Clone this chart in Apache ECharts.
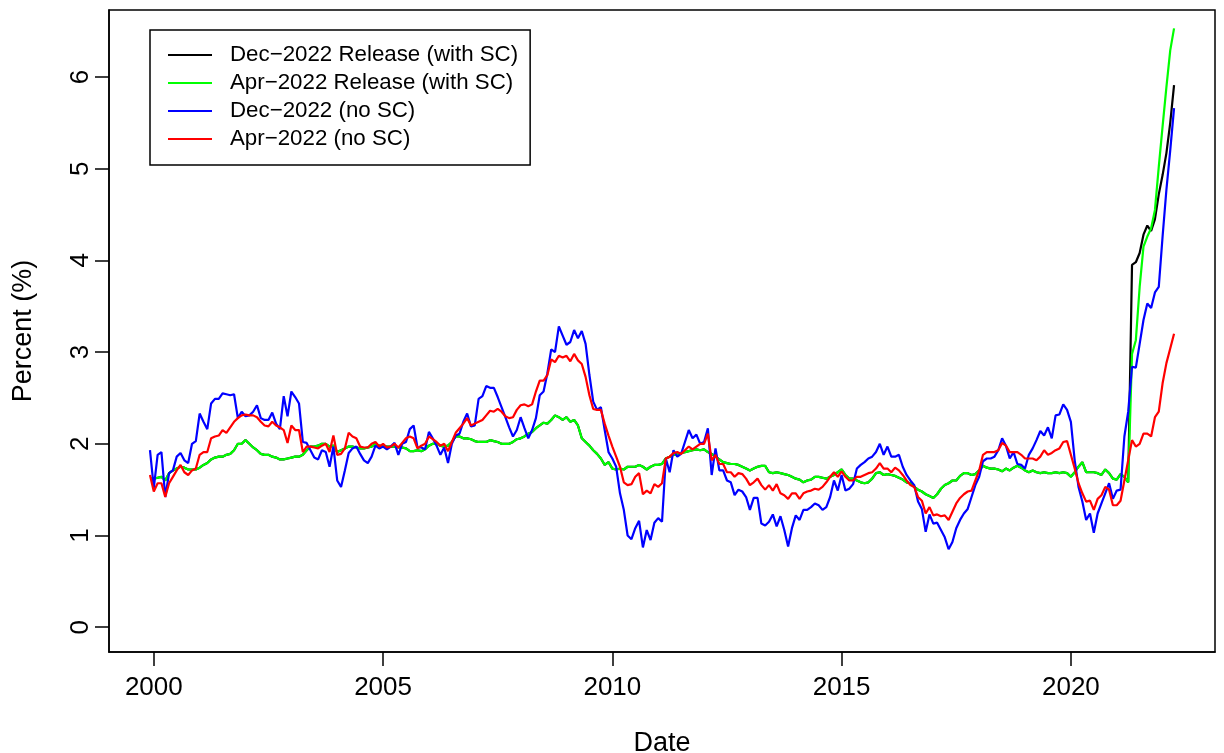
<!DOCTYPE html>
<html>
<head>
<meta charset="utf-8">
<script src="https://cdn.jsdelivr.net/npm/echarts@6/dist/echarts.min.js"></script>
<style>
html,body{margin:0;padding:0;background:#fff;}
#chart{width:1224px;height:753px;}
</style>
</head>
<body>
<div id="chart"></div>
<script>
// Monthly observations, Dec-1999 .. Apr-2022
const startYear = 1999 + 11/12;
const seriesNames = ['Dec\u22122022 Release (with SC)', 'Apr\u22122022 Release (with SC)', 'Dec\u22122022 (no SC)', 'Apr\u22122022 (no SC)'];
const xTicks = [2000, 2005, 2010, 2015, 2020];
const yTicks = [0, 1, 2, 3, 4, 5, 6];

const aprWithSC = [
1.62,1.62,1.63,1.64,1.60,1.68,1.71,1.73,1.75,1.74,1.72,1.72,1.72,1.74,1.77,1.79,1.83,1.85,1.86,1.86,1.88,1.89,1.93,2.00,2.00,2.04,2.00,1.96,1.93,1.89,1.88,1.88,1.86,1.85,1.83,1.83,1.84,1.85,1.86,1.86,1.88,1.93,1.97,1.97,1.98,2.00,2.00,1.97,1.98,
1.91,1.93,1.95,1.97,1.97,1.96,1.95,1.95,1.96,1.97,2.00,1.98,1.97,1.97,1.97,1.97,1.96,1.96,1.95,1.92,1.92,1.93,1.92,1.94,1.98,2.00,2.00,1.98,1.97,1.98,2.02,2.08,2.08,2.06,2.06,2.05,2.03,2.02,2.02,2.02,2.04,2.03,2.02,2.00,2.00,2.00,2.02,2.05,
2.06,2.08,2.11,2.13,2.17,2.20,2.23,2.22,2.26,2.31,2.29,2.26,2.29,2.24,2.26,2.20,2.06,2.02,1.98,1.93,1.89,1.84,1.77,1.80,1.73,1.72,1.73,1.72,1.75,1.75,1.75,1.77,1.75,1.72,1.75,1.77,1.77,1.78,1.84,1.86,1.88,1.89,1.90,1.91,1.92,1.93,1.94,1.93,
1.94,1.91,1.89,1.86,1.83,1.80,1.79,1.78,1.78,1.77,1.75,1.73,1.71,1.73,1.75,1.76,1.76,1.69,1.68,1.69,1.68,1.67,1.66,1.64,1.62,1.61,1.58,1.60,1.61,1.64,1.64,1.63,1.62,1.64,1.66,1.69,1.72,1.66,1.62,1.62,1.60,1.58,1.57,1.58,1.62,1.68,1.69,1.66,1.67,
1.66,1.65,1.63,1.61,1.58,1.57,1.53,1.50,1.48,1.45,1.43,1.41,1.45,1.51,1.55,1.57,1.60,1.60,1.65,1.68,1.68,1.66,1.67,1.71,1.76,1.74,1.73,1.73,1.72,1.70,1.73,1.71,1.74,1.76,1.74,1.71,1.69,1.71,1.69,1.68,1.69,1.68,1.68,1.69,1.68,1.69,1.68,1.64,
1.69,1.75,1.80,1.69,1.69,1.69,1.68,1.66,1.72,1.68,1.62,1.61,1.67,1.64,1.58,2.98,3.13,3.71,4.15,4.26,4.35,4.55,5.02,5.46,5.89,6.29,6.53
];

// The Dec-2022 release coincides with the Apr-2022 release (drawn over it) until spring 2021
const decWithSCTail = [3.95,3.98,4.08,4.28,4.38,4.32,4.45,4.72,4.93,5.17,5.50,5.91];
const decWithSC = aprWithSC.slice(0, 257).concat(decWithSCTail);

const decNoSC = [
1.93,1.52,1.88,1.91,1.42,1.68,1.71,1.86,1.90,1.82,1.79,2.00,2.03,2.33,2.24,2.16,2.44,2.49,2.49,2.55,2.54,2.53,2.54,2.28,2.35,2.30,2.31,2.35,2.42,2.28,2.26,2.26,2.34,2.22,2.16,2.52,2.30,2.57,2.51,2.44,2.02,2.01,1.93,1.85,1.83,1.93,1.91,1.75,1.97,
1.60,1.53,1.71,1.90,1.95,1.97,1.89,1.82,1.79,1.86,1.98,1.95,1.97,1.94,1.97,2.01,1.88,2.00,2.02,2.16,2.20,1.96,1.96,1.94,2.13,2.06,1.98,1.88,1.96,1.79,2.00,2.09,2.11,2.24,2.33,2.19,2.20,2.49,2.52,2.63,2.61,2.61,2.51,2.40,2.29,2.18,2.08,2.15,
2.29,2.17,2.06,2.15,2.28,2.53,2.57,2.77,3.03,3.00,3.28,3.18,3.08,3.11,3.24,3.15,3.23,3.09,2.75,2.46,2.37,2.40,2.15,1.91,1.84,1.75,1.46,1.28,1.00,0.96,1.08,1.16,0.87,1.06,0.95,1.14,1.19,1.15,1.84,1.69,1.93,1.86,1.89,2.02,2.15,2.06,2.10,2.00,
2.02,2.17,1.66,1.95,1.71,1.71,1.60,1.58,1.44,1.50,1.48,1.42,1.28,1.41,1.41,1.13,1.11,1.15,1.23,1.10,1.21,1.06,0.88,1.08,1.22,1.17,1.28,1.28,1.31,1.35,1.33,1.28,1.31,1.42,1.60,1.49,1.66,1.49,1.51,1.56,1.73,1.77,1.80,1.84,1.86,1.91,2.00,1.88,1.97,
1.86,1.86,1.88,1.75,1.66,1.60,1.55,1.37,1.29,1.04,1.23,1.13,1.14,1.06,0.98,0.85,0.93,1.08,1.17,1.24,1.29,1.42,1.55,1.64,1.81,1.84,1.84,1.86,1.93,2.06,1.98,1.84,1.91,1.78,1.77,1.73,1.88,1.95,2.04,2.14,2.09,2.18,2.06,2.31,2.32,2.43,2.37,2.24,
1.82,1.53,1.37,1.17,1.24,1.03,1.24,1.35,1.46,1.57,1.40,1.49,1.50,2.08,2.35,2.84,2.83,3.09,3.35,3.53,3.48,3.65,3.71,4.26,4.77,5.20,5.66
];

const aprNoSC = [
1.66,1.48,1.57,1.57,1.42,1.57,1.64,1.71,1.77,1.69,1.66,1.71,1.73,1.88,1.91,1.91,2.06,2.08,2.09,2.15,2.12,2.18,2.24,2.28,2.31,2.32,2.31,2.31,2.29,2.24,2.20,2.19,2.24,2.20,2.18,2.15,2.01,2.20,2.15,2.15,1.91,1.97,1.97,1.96,1.95,1.98,2.00,1.91,2.09,
1.88,1.89,1.95,2.12,2.08,2.06,1.97,1.96,1.96,2.00,2.02,1.97,2.00,1.96,1.97,2.00,1.96,2.01,2.06,2.08,2.06,1.95,1.98,2.00,2.08,2.05,2.02,1.98,2.00,1.92,2.02,2.12,2.17,2.22,2.28,2.20,2.22,2.24,2.26,2.31,2.36,2.35,2.38,2.35,2.30,2.28,2.29,2.37,
2.42,2.43,2.41,2.43,2.57,2.69,2.69,2.75,2.92,2.89,2.96,2.94,2.96,2.90,2.98,2.91,2.87,2.73,2.53,2.38,2.37,2.37,2.22,2.09,1.97,1.86,1.75,1.58,1.55,1.56,1.64,1.68,1.45,1.49,1.46,1.56,1.53,1.57,1.84,1.86,1.90,1.91,1.89,1.93,1.97,1.94,1.97,2.00,
2.00,2.11,1.82,1.88,1.78,1.78,1.69,1.69,1.64,1.68,1.67,1.62,1.55,1.58,1.62,1.55,1.50,1.55,1.49,1.56,1.46,1.44,1.40,1.46,1.46,1.40,1.46,1.48,1.49,1.51,1.50,1.53,1.58,1.64,1.69,1.64,1.70,1.64,1.60,1.60,1.64,1.64,1.66,1.68,1.69,1.73,1.79,1.73,1.73,
1.69,1.74,1.71,1.66,1.60,1.55,1.53,1.42,1.38,1.24,1.31,1.22,1.23,1.21,1.22,1.17,1.26,1.35,1.41,1.45,1.48,1.49,1.60,1.71,1.88,1.91,1.91,1.91,1.93,2.01,1.98,1.91,1.91,1.91,1.88,1.84,1.84,1.84,1.82,1.86,1.93,1.88,1.90,1.93,1.95,2.02,2.03,1.88,
1.73,1.57,1.46,1.37,1.38,1.28,1.40,1.44,1.53,1.50,1.33,1.33,1.38,1.60,1.82,2.04,1.97,2.00,2.11,2.11,2.08,2.29,2.35,2.66,2.88,3.04,3.20
];

const colors = ['#000000', '#00ff00', '#0000ff', '#ff0000'];
const seriesValues = [decWithSC, aprWithSC, decNoSC, aprNoSC];

function toPoints(arr) {
  return arr.map((v, i) => [startYear + i / 12, v]);
}

const FONT = 'Liberation Sans';
const chart = echarts.init(document.getElementById('chart'), null, {renderer: 'canvas'});

chart.setOption({
  animation: false,
  backgroundColor: '#ffffff',
  textStyle: {fontFamily: FONT, color: '#000'},
  grid: {
    left: 109, right: 9, top: 10, bottom: 101,
    containLabel: false,
    outerBoundsMode: 'none',
    show: true, borderColor: '#000', borderWidth: 1.5, backgroundColor: 'transparent'
  },
  legend: {
    orient: 'vertical',
    left: 150, top: 30,
    padding: [11, 12, 12, 18],
    itemGap: 0,
    itemWidth: 44, itemHeight: 14,
    borderColor: '#000', borderWidth: 1.5,
    backgroundColor: '#fff',
    textStyle: {fontFamily: FONT, fontSize: 22.3, color: '#000', lineHeight: 28, padding: [0, 0, 0, 13]},
    data: seriesNames.map((n) => ({name: n, icon: 'path://M0,0L100,0L100,5L0,5Z'}))
  },
  xAxis: {
    type: 'value',
    min: 1999.023, max: 2023.143,
    splitLine: {show: false},
    axisLine: {show: true, onZero: false, lineStyle: {color: '#000', width: 1.5}},
    axisTick: {show: true, inside: false, length: 14, lineStyle: {color: '#000', width: 1.5}, customValues: xTicks},
    axisLabel: {show: true, fontFamily: FONT, fontSize: 26, color: '#000', margin: 23, customValues: xTicks,
      formatter: (v) => String(v)},
    name: 'Date', nameLocation: 'middle', nameGap: 78,
    nameTextStyle: {fontFamily: FONT, fontSize: 27, color: '#000'}
  },
  yAxis: {
    type: 'value',
    min: -0.27, max: 6.73,
    splitLine: {show: false},
    axisLine: {show: true, onZero: false, lineStyle: {color: '#000', width: 1.5}},
    axisTick: {show: true, inside: false, length: 14, lineStyle: {color: '#000', width: 1.5}, customValues: yTicks},
    axisLabel: {show: true, fontFamily: FONT, fontSize: 26, color: '#000', margin: 15, rotate: 90, customValues: yTicks,
      formatter: (v) => String(v)},
    name: 'Percent (%)', nameLocation: 'middle', nameGap: 72, nameRotate: 90,
    nameTextStyle: {fontFamily: FONT, fontSize: 27, color: '#000'}
  },
  series: seriesNames.map((n, k) => ({
    name: n,
    type: 'line',
    data: toPoints(seriesValues[k]),
    symbol: 'none',
    showSymbol: false,
    lineStyle: {color: colors[k], width: 2.2},
    itemStyle: {color: colors[k]},
    z: 2 + k,
    emphasis: {disabled: true}
  }))
});
</script>
</body>
</html>
